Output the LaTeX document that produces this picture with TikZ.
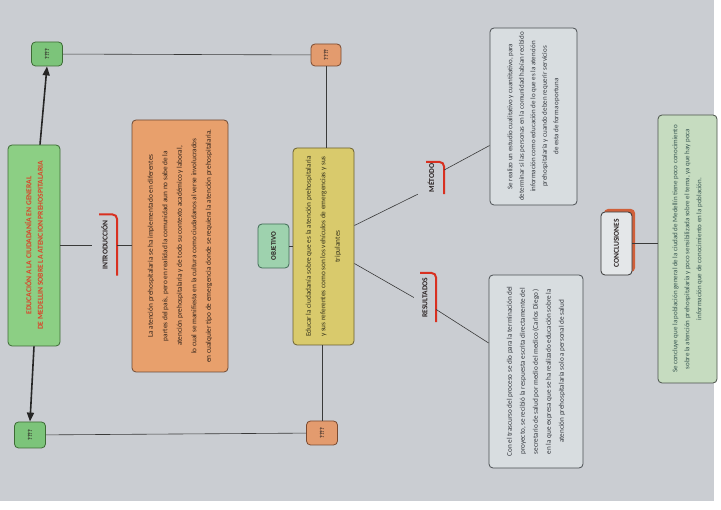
\documentclass[tikz,border=0pt]{standalone}
\usepackage{fontspec}
\setmainfont{Carlito}
\usepackage{graphicx}
\usetikzlibrary{arrows.meta,shadows}
\definecolor{bgray}{HTML}{CACDD2}
\definecolor{titlegreen}{HTML}{8CCF84}
\definecolor{titleborder}{HTML}{3D6B35}
\definecolor{titletext}{HTML}{D9452A}
\definecolor{qgreen}{HTML}{7CC47A}
\definecolor{qorange}{HTML}{E39B6E}
\definecolor{qoborder}{HTML}{7A4A30}
\definecolor{introfill}{HTML}{E8A06C}
\definecolor{introborder}{HTML}{6E4A35}
\definecolor{introtext}{HTML}{33241A}
\definecolor{yellowfill}{HTML}{D9CA6C}
\definecolor{yellowborder}{HTML}{6A6030}
\definecolor{yellowtext}{HTML}{36331C}
\definecolor{objfill}{HTML}{9ED2AE}
\definecolor{objborder}{HTML}{3F6A55}
\definecolor{grayfill}{HTML}{D8DDE0}
\definecolor{grayborder}{HTML}{4A4E52}
\definecolor{graytext}{HTML}{363A40}
\definecolor{conclfill}{HTML}{C6DCC0}
\definecolor{conclborder}{HTML}{4A524A}
\definecolor{concltext}{HTML}{3A5853}
\definecolor{labtext}{HTML}{2A2222}
\definecolor{markred}{HTML}{D83020}
\definecolor{shadowred}{HTML}{D0603A}
\definecolor{conncol}{HTML}{3A3A3A}
\newcommand{\myrot}[2]{\rotatebox{90}{\parbox{#1}{\centering #2}}}
\begin{document}
\begin{tikzpicture}[x=1pt,y=-1pt,
  box/.style={draw, rounded corners=4pt, inner sep=0pt, line width=0.8pt},
  qbox/.style={box, minimum width=31pt, minimum height=24pt, font=\fontsize{6}{7}\selectfont\bfseries, text=labtext},
  lab/.style={inner sep=0pt, font=\fontsize{7.5}{9}\selectfont\bfseries, text=labtext},
  redmark/.style={draw=markred, line width=2pt, rounded corners=5pt},
  conn/.style={draw=conncol, line width=0.6pt},
  bigarrow/.style={draw=black!85, line width=1.6pt, -{Triangle[length=9pt,width=7pt]}}]
\useasboundingbox (0,0) rectangle (721,510);
\fill[white] (0,0) rectangle (721,510);
\fill[bgray] (0,0) rectangle (714,501);

% title
\node[box, fill=titlegreen, draw=titleborder, minimum width=52pt, minimum height=201pt,
  text=titletext, font=\fontsize{7.6}{11.5}\selectfont\bfseries] (title) at (34,245.5)
  {\myrot{198pt}{EDUCACIÓN A LA CIUDADANÍA EN GENERAL\\ DE MEDELLIN SOBRE LA ATENCION PREHOSPITALARIA}};

% ???? boxes
\node[qbox, fill=qgreen, draw=titleborder] (tg) at (47,54) {\rotatebox{90}{????}};
\node[qbox, fill=qgreen, draw=titleborder, minimum height=26pt] (bg) at (30,435) {\rotatebox{90}{????}};
\node[qbox, fill=qorange, draw=qoborder, minimum width=30pt, minimum height=22pt] (to) at (326,55) {\rotatebox{90}{????}};
\node[qbox, fill=qorange, draw=qoborder] (bo) at (322,433) {\rotatebox{90}{????}};

% introduction
\node[lab, minimum width=25pt, minimum height=61pt] (introlab) at (104.5,245) {\rotatebox{90}{INTRODUCCIÓN}};
\node[box, fill=introfill, draw=introborder, minimum width=96pt, minimum height=252pt,
  text=introtext, font=\fontsize{7.3}{14.5}\selectfont] (introbox) at (180,246)
  {\myrot{248pt}{La atención prehospitalaria se ha implementado en diferentes\\
  partes del país, pero en realidad la comunidad aun no sabe de la\\
  atención prehospitalaria y de todo su contexto académico y laboral,\\
  lo cual se manifiesta en la cultura como ciudadanos al verse involucrados\\
  en cualquier tipo de emergencia donde se requiera la atención prehospitalaria.}};

% objective
\node[box, fill=objfill, draw=objborder, minimum width=31pt, minimum height=44pt,
  font=\fontsize{7}{9}\selectfont\bfseries, text=labtext] (objlab) at (273.5,246) {\rotatebox{90}{OBJETIVO}};
\node[box, fill=yellowfill, draw=yellowborder, minimum width=61pt, minimum height=197pt,
  text=yellowtext, font=\fontsize{7.3}{14.5}\selectfont] (yellow) at (323.5,246.5)
  {\myrot{194pt}{Educar la ciudadanía sobre que es la atención prehospitalaria\\
  y sus referentes como son los vehículos de emergencias y sus\\
  tripulantes}};

% method / results labels
\node[lab, minimum width=26pt, minimum height=32pt] (metlab) at (431,178) {\rotatebox{90}{MÉTODO}};
\node[lab, minimum width=22pt, minimum height=49pt] (reslab) at (425,297.5) {\rotatebox{90}{RESULTADOS}};

% method / results boxes
\node[box, fill=grayfill, draw=grayborder, minimum width=87pt, minimum height=177pt,
  text=graytext, font=\fontsize{7}{11.5}\selectfont] (metbox) at (533.5,116.5)
  {\myrot{175pt}{Se realizo un estudio cualitativo y cuantitativo, para\\
  determinar si las personas en la comunidad habían recibido\\
  información como educación de lo que es la atención\\
  prehospitalaria y cuando deben requerir servicios\\
  de esta de forma oportuna}};
\node[box, fill=grayfill, draw=grayborder, minimum width=94pt, minimum height=193pt,
  text=graytext, font=\fontsize{7.2}{13}\selectfont] (resbox) at (536,371.5)
  {\myrot{190pt}{Con el trascurso del proceso se dio para la terminación del\\
  proyecto, se recibió la respuesta escrita directamente del\\
  secretario de salud por medio del medico (Carlos Diego )\\
  en la que expresa que se ha realizado educación sobre la\\
  atención prehospitalaria solo a personal de salud}};

% conclusions
\node[box, fill=grayfill!70!white, draw=black!80, minimum width=31pt, minimum height=63pt,
  font=\fontsize{7.5}{9}\selectfont\bfseries, text=labtext,
  drop shadow={shadow xshift=3pt, shadow yshift=3pt, fill=shadowred, opacity=1}] (concllab) at (616.5,243.5)
  {\rotatebox{90}{CONCLUSIONES}};
\node[box, fill=conclfill, draw=conclborder, minimum width=59pt, minimum height=268pt,
  text=concltext, font=\fontsize{7}{12}\selectfont] (conclbox) at (687.5,249)
  {\myrot{266pt}{Se concluye que la población general de la ciudad de Medellín tiene poco conocimiento\\
  sobre la atención prehospitalaria y poco sensibilizada sobre el tema, ya que hay poca\\
  información que de conocimiento en la población.}};

% red marks
\draw[redmark] ([xshift=-18pt]introlab.north east) -- (introlab.north east) -- (introlab.south east);
\draw[redmark] ([xshift=-18pt]metlab.north east) -- (metlab.north east) -- (metlab.south east);
\draw[redmark] ([xshift=-16pt]reslab.north east) -- (reslab.north east) -- (reslab.south east);

% connectors
\draw[bigarrow] ([xshift=6pt]title.north) -- (tg.south);
\draw[bigarrow] (title.south) -- (bg.north);
\draw[conn] (tg) -- (to);
\draw[conn] (bg) -- (bo);
\draw[conn] (to.south) -- (to.south |- yellow.north);
\draw[conn] (bo.north) -- (bo.north |- yellow.south);
\draw[conn] (title.east |- introlab.west) -- (introlab.west);
\draw[conn] (introlab.east) -- (introlab.east -| introbox.west);
\draw[conn] (objlab.east) -- (objlab.east -| yellow.west);
\draw[conn] ([yshift=21pt]yellow.east) -- (metlab.south west);
\draw[conn] ([yshift=-17pt]yellow.east) -- (reslab.west);
\draw[conn] ([yshift=8pt]metlab.east) -- ([yshift=-29pt]metbox.west);
\draw[conn] ([yshift=-12pt]reslab.east) -- ([yshift=28.5pt]resbox.west);
\draw[conn] (concllab.east) -- (concllab.east -| conclbox.west);
\end{tikzpicture}
\end{document}
